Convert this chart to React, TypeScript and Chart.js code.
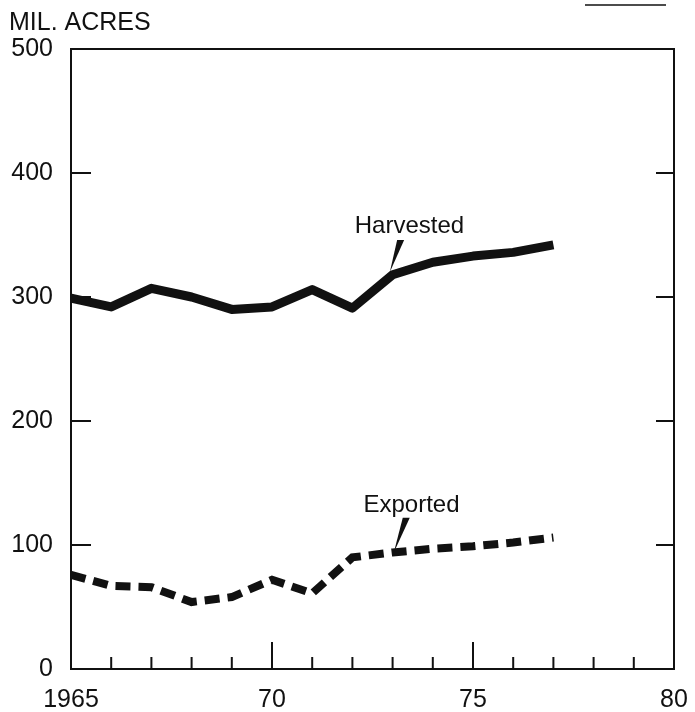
import React, { useEffect, useRef } from "react";
import { Chart, registerables } from "chart.js";

Chart.register(...registerables);

// ---- data ----
const years = [1965, 1966, 1967, 1968, 1969, 1970, 1971, 1972, 1973, 1974, 1975, 1976, 1977];
const harvested = [299, 292, 307, 300, 290, 292, 306, 291, 318, 328, 333, 336, 342];
const exported = [76, 67, 66, 54, 58, 72, 61, 90, 94, 97, 99, 102, 106];
const yTickValues = [0, 100, 200, 300, 400, 500];
const xLabelYears = [1965, 1970, 1975, 1980];
const xLabelTexts = ["1965", "70", "75", "80"];
const seriesNames = ["Harvested", "Exported"];
const unitLabel = "MIL. ACRES";

// annotation anchors in data coordinates: [labelX, labelY, wedgeTopX, wedgeTopY, tipX, tipY]
const harvestedNote = [1973.42, 352, 1973.2, 346, 1972.93, 320];
const exportedNote = [1973.47, 127, 1973.34, 122, 1973.03, 94];

const FONT = "'Liberation Sans', Arial, Helvetica, sans-serif";
const INK = "#111";

const framePlugin = {
  id: "frame",
  afterDraw(chart: any) {
    const { ctx, chartArea, scales } = chart;
    const xs = scales.x;
    const ys = scales.y;
    const { left, right, top, bottom } = chartArea;
    ctx.save();
    ctx.strokeStyle = INK;
    ctx.fillStyle = INK;
    ctx.lineWidth = 2;
    ctx.lineCap = "butt";
    // box
    ctx.strokeRect(left, top, right - left, bottom - top);
    // y ticks inward, both sides
    ctx.beginPath();
    yTickValues.forEach((v) => {
      if (v === 0 || v === 500) return;
      const py = ys.getPixelForValue(v);
      ctx.moveTo(left, py);
      ctx.lineTo(left + 20, py);
      ctx.moveTo(right, py);
      ctx.lineTo(right - 18, py);
    });
    // x ticks inward
    for (let yr = 1966; yr <= 1979; yr++) {
      const px = xs.getPixelForValue(yr);
      const len = yr === 1970 || yr === 1975 ? 27 : 12;
      ctx.moveTo(px, bottom);
      ctx.lineTo(px, bottom - len);
    }
    ctx.stroke();

    // unit label
    ctx.font = `25px ${FONT}`;
    ctx.textAlign = "left";
    ctx.textBaseline = "alphabetic";
    ctx.fillText(unitLabel, 9, 30);

    // series labels with wedge pointers
    ctx.font = `24px ${FONT}`;
    const notes = [harvestedNote, exportedNote];
    notes.forEach((n, i) => {
      ctx.textAlign = "center";
      ctx.fillText(seriesNames[i], xs.getPixelForValue(n[0]), ys.getPixelForValue(n[1]));
      const tx = xs.getPixelForValue(n[2]);
      const ty = ys.getPixelForValue(n[3]);
      const px = xs.getPixelForValue(n[4]);
      const py = ys.getPixelForValue(n[5]);
      ctx.beginPath();
      ctx.moveTo(tx - 3.5, ty);
      ctx.lineTo(tx + 3.5, ty);
      ctx.lineTo(px, py);
      ctx.closePath();
      ctx.fill();
    });

    // scan mark at top right
    ctx.lineWidth = 1.5;
    ctx.beginPath();
    ctx.moveTo(585, 5);
    ctx.lineTo(666, 5);
    ctx.stroke();
    ctx.restore();
  },
};

export default function App() {
  const ref = useRef<HTMLCanvasElement | null>(null);

  useEffect(() => {
    if (!ref.current) return;
    const chart = new Chart(ref.current, {
      type: "line",
      data: {
        datasets: [
          {
            label: seriesNames[0],
            data: years.map((y, i) => ({ x: y, y: harvested[i] })),
            borderColor: INK,
            borderWidth: 9,
            pointRadius: 0,
            tension: 0,
            borderJoinStyle: "round",
            borderCapStyle: "butt",
            fill: false,
          },
          {
            label: seriesNames[1],
            data: years.map((y, i) => ({ x: y, y: exported[i] })),
            borderColor: INK,
            borderWidth: 8,
            borderDash: [15, 8],
            pointRadius: 0,
            tension: 0,
            borderCapStyle: "butt",
            fill: false,
          },
        ],
      },
      options: {
        responsive: false,
        animation: false,
        layout: { padding: { top: 49, right: 21, left: 0, bottom: 0 } },
        plugins: { legend: { display: false }, tooltip: { enabled: false }, title: { display: false } },
        scales: {
          x: {
            type: "linear",
            min: 1965,
            max: 1980,
            grid: { display: false, drawTicks: false },
            border: { display: false },
            afterBuildTicks: (s: any) => {
              s.ticks = xLabelYears.map((v) => ({ value: v }));
            },
            afterFit: (s: any) => {
              s.height = 43;
              s.paddingLeft = 0;
              s.paddingRight = 0;
            },
            ticks: {
              autoSkip: false,
              maxRotation: 0,
              padding: 16,
              color: INK,
              font: { family: FONT, size: 25 },
              callback: (v: any) => {
                const idx = xLabelYears.indexOf(Number(v));
                return idx >= 0 ? xLabelTexts[idx] : "";
              },
            },
          },
          y: {
            min: 0,
            max: 500,
            grid: { display: false, drawTicks: false },
            border: { display: false },
            afterBuildTicks: (s: any) => {
              s.ticks = yTickValues.map((v) => ({ value: v }));
            },
            afterFit: (s: any) => {
              s.width = 71;
              s.paddingTop = 0;
              s.paddingBottom = 0;
            },
            ticks: {
              padding: 18,
              color: INK,
              font: { family: FONT, size: 25 },
            },
          },
        },
      },
      plugins: [framePlugin],
    } as any);
    return () => chart.destroy();
  }, []);

  return (
    <div style={{ position: "absolute", left: 0, top: 0, width: 695, height: 712, background: "#fff" }}>
      <canvas ref={ref} width={695} height={712} style={{ width: 695, height: 712, display: "block" }} />
    </div>
  );
}
